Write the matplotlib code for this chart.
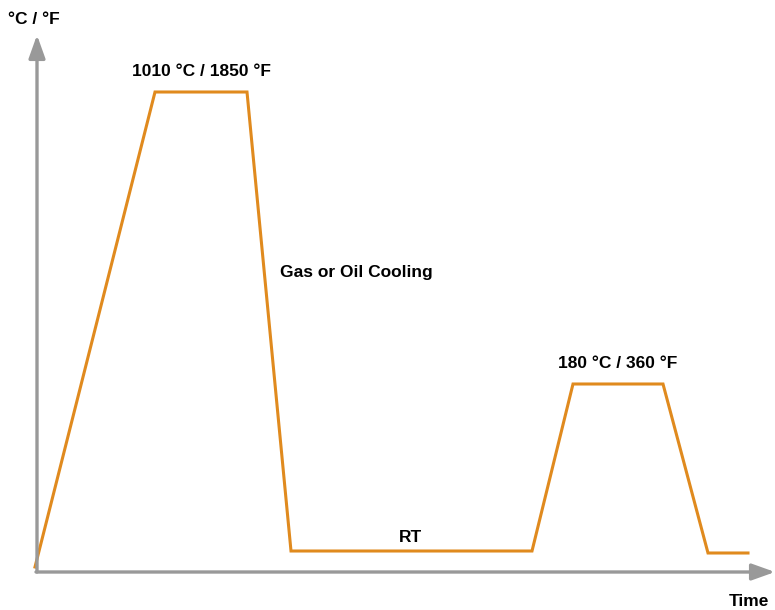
import matplotlib.pyplot as plt

# Heat treatment profile (time / temperature, arbitrary units)
time = [35, 155, 247, 291, 532, 573, 663, 708, 748]
temp = [43, 518, 518, 59, 59, 226, 226, 57, 57]

labels = ["1010 °C / 1850 °F", "Gas or Oil Cooling", "RT", "180 °C / 360 °F"]
label_pos = [(202, 538), (356, 337), (411, 72), (618, 247)]

plt.rcParams['font.family'] = ['Liberation Sans', 'DejaVu Sans']

fig = plt.figure(figsize=(7.75, 6.1), dpi=100)
ax = fig.add_axes([0, 0, 1, 1])
ax.set_xlim(0, 775)
ax.set_ylim(0, 610)
ax.axis("off")

axis_color = "#999999"
arrow = dict(arrowstyle="-|>,head_length=1.4,head_width=0.5", color=axis_color,
             lw=2.4, shrinkA=0, shrinkB=0)
ax.annotate("", xy=(37, 575), xytext=(37, 38), arrowprops=arrow)
ax.annotate("", xy=(775, 38), xytext=(36, 38), arrowprops=arrow)

ax.plot(time, temp, color="#E08A1E", lw=2.2, solid_joinstyle="miter")

for txt, (x, y) in zip(labels, label_pos):
    ax.text(x, y, txt, ha="center", va="center", fontsize=12.5, fontweight="bold")

ax.text(34, 590, "°C / °F", ha="center", va="center", fontsize=12.5, fontweight="bold")
ax.text(749, 9, "Time", ha="center", va="center", fontsize=12.5, fontweight="bold")

fig.savefig("out.png", dpi=100)
